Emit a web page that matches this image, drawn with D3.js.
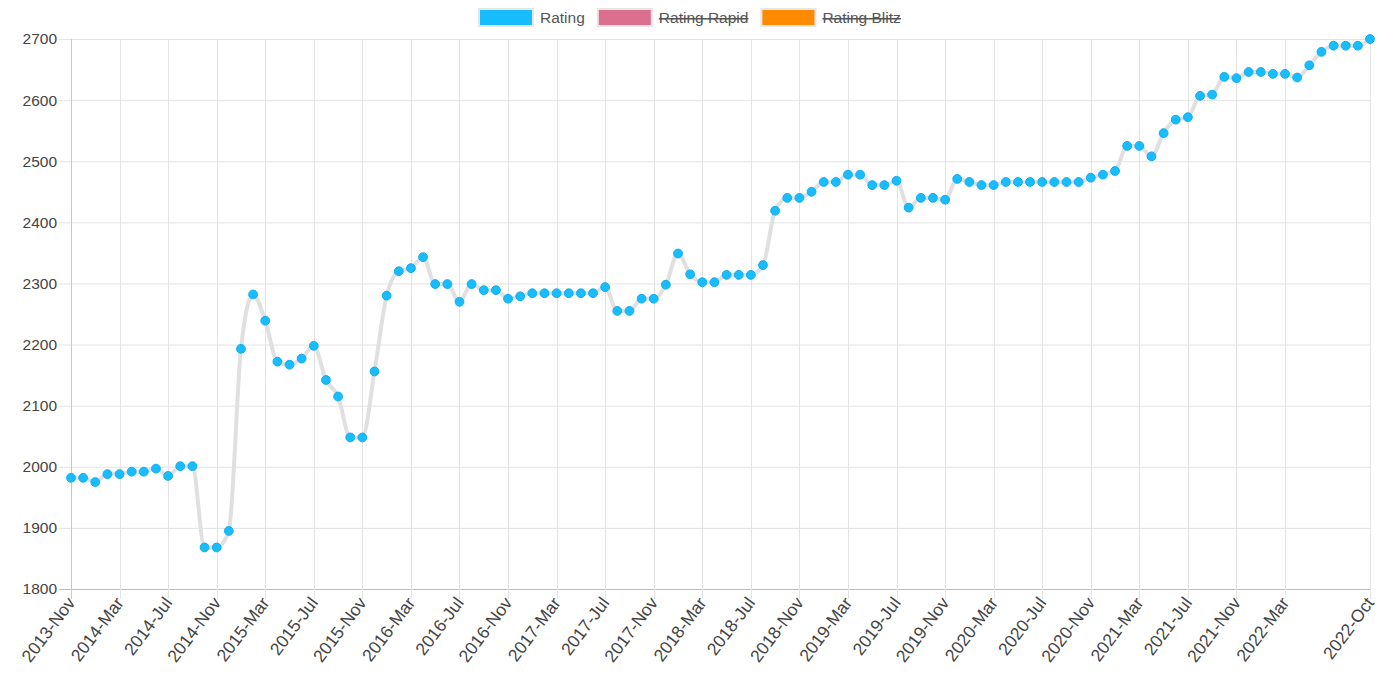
<!DOCTYPE html>
<html>
<head>
<meta charset="utf-8">
<script src="https://cdn.jsdelivr.net/npm/d3@7"></script>
<style>
  body { margin: 0; background: #fff; }
  svg { display: block; font-family: "Liberation Sans", Arial, sans-serif; }
</style>
</head>
<body>
<script>
var width = 1400,
    height = 687;

var margin = {top: 39, right: 30, bottom: 98, left: 71};

var months = [
  "2013-Nov", "2013-Dec",
  "2014-Jan", "2014-Feb", "2014-Mar", "2014-Apr", "2014-May", "2014-Jun", "2014-Jul", "2014-Aug", "2014-Sep", "2014-Oct", "2014-Nov", "2014-Dec",
  "2015-Jan", "2015-Feb", "2015-Mar", "2015-Apr", "2015-May", "2015-Jun", "2015-Jul", "2015-Aug", "2015-Sep", "2015-Oct", "2015-Nov", "2015-Dec",
  "2016-Jan", "2016-Feb", "2016-Mar", "2016-Apr", "2016-May", "2016-Jun", "2016-Jul", "2016-Aug", "2016-Sep", "2016-Oct", "2016-Nov", "2016-Dec",
  "2017-Jan", "2017-Feb", "2017-Mar", "2017-Apr", "2017-May", "2017-Jun", "2017-Jul", "2017-Aug", "2017-Sep", "2017-Oct", "2017-Nov", "2017-Dec",
  "2018-Jan", "2018-Feb", "2018-Mar", "2018-Apr", "2018-May", "2018-Jun", "2018-Jul", "2018-Aug", "2018-Sep", "2018-Oct", "2018-Nov", "2018-Dec",
  "2019-Jan", "2019-Feb", "2019-Mar", "2019-Apr", "2019-May", "2019-Jun", "2019-Jul", "2019-Aug", "2019-Sep", "2019-Oct", "2019-Nov", "2019-Dec",
  "2020-Jan", "2020-Feb", "2020-Mar", "2020-Apr", "2020-May", "2020-Jun", "2020-Jul", "2020-Aug", "2020-Sep", "2020-Oct", "2020-Nov", "2020-Dec",
  "2021-Jan", "2021-Feb", "2021-Mar", "2021-Apr", "2021-May", "2021-Jun", "2021-Jul", "2021-Aug", "2021-Sep", "2021-Oct", "2021-Nov", "2021-Dec",
  "2022-Jan", "2022-Feb", "2022-Mar", "2022-Apr", "2022-May", "2022-Jun", "2022-Jul", "2022-Aug", "2022-Sep", "2022-Oct"
];

var rating = [
  1982, 1982, 1975, 1988, 1988, 1992, 1992, 1997, 1985, 2001, 2001, 1868,
  1868, 1895, 2193, 2282, 2239, 2172, 2167, 2177, 2198, 2142, 2115, 2048,
  2048, 2156, 2280, 2320, 2325, 2343, 2299, 2299, 2270, 2299, 2289, 2289,
  2275, 2279, 2284, 2284, 2284, 2284, 2284, 2284, 2294, 2255, 2255, 2275,
  2275, 2298, 2349, 2315, 2302, 2302, 2314, 2314, 2314, 2330, 2419, 2440,
  2440, 2450, 2466, 2466, 2478, 2478, 2461, 2461, 2468, 2424, 2440, 2440,
  2437, 2471, 2466, 2461, 2461, 2466, 2466, 2466, 2466, 2466, 2466, 2466,
  2473, 2478, 2484, 2525, 2525, 2508, 2546, 2568, 2572, 2607, 2609, 2638,
  2636, 2646, 2646, 2643, 2643, 2637, 2657, 2679, 2689, 2689, 2689, 2700
];

var xTickLabels = [
  "2013-Nov", "2014-Mar", "2014-Jul", "2014-Nov", "2015-Mar", "2015-Jul", "2015-Nov",
  "2016-Mar", "2016-Jul", "2016-Nov", "2017-Mar", "2017-Jul", "2017-Nov", "2018-Mar",
  "2018-Jul", "2018-Nov", "2019-Mar", "2019-Jul", "2019-Nov", "2020-Mar", "2020-Jul",
  "2020-Nov", "2021-Mar", "2021-Jul", "2021-Nov", "2022-Mar", "2022-Oct"
];

var yTicks = [1800, 1900, 2000, 2100, 2200, 2300, 2400, 2500, 2600, 2700];

var legendItems = [
  {name: "Rating", color: "#17bdff", hidden: false},
  {name: "Rating Rapid", color: "#dc6f8f", hidden: true},
  {name: "Rating Blitz", color: "#ff8a00", hidden: true}
];

var data = months.map(function(m, i) { return {month: m, value: rating[i]}; });

var x = d3.scalePoint()
    .domain(months)
    .range([margin.left, width - margin.right]);

var y = d3.scaleLinear()
    .domain([1800, 2700])
    .range([height - margin.bottom, margin.top]);

var svg = d3.select("body").append("svg")
    .attr("width", width)
    .attr("height", height);

// grid
svg.append("g").selectAll("line")
    .data(yTicks)
    .enter().append("line")
    .attr("x1", margin.left - 12)
    .attr("x2", width - margin.right)
    .attr("y1", function(d) { return y(d) + 0.5; })
    .attr("y2", function(d) { return y(d) + 0.5; })
    .attr("stroke", function(d) { return d === 1800 ? "#bdbdbd" : "#e3e3e3"; })
    .attr("stroke-width", 1);

svg.append("g").selectAll("line")
    .data(xTickLabels)
    .enter().append("line")
    .attr("x1", function(d) { return Math.round(x(d)) + 0.5; })
    .attr("x2", function(d) { return Math.round(x(d)) + 0.5; })
    .attr("y1", margin.top)
    .attr("y2", height - margin.bottom + 10)
    .attr("stroke", function(d, i) { return i === 0 ? "#c8c8c8" : "#e3e3e3"; })
    .attr("stroke-width", 1);

// y labels
svg.append("g").selectAll("text")
    .data(yTicks)
    .enter().append("text")
    .attr("x", margin.left - 14)
    .attr("y", function(d) { return y(d); })
    .attr("dy", "0.35em")
    .attr("text-anchor", "end")
    .attr("font-size", 15.5)
    .attr("fill", "#444")
    .text(function(d) { return d; });

// x labels
svg.append("g").selectAll("text")
    .data(xTickLabels)
    .enter().append("text")
    .attr("transform", function(d) {
        return "translate(" + (x(d) + 5) + "," + (height - margin.bottom + 14) + ") rotate(-53)";
    })
    .attr("text-anchor", "end")
    .attr("font-size", 17.5)
    .attr("fill", "#444")
    .text(function(d) { return d; });

// line
var line = d3.line()
    .x(function(d) { return x(d.month); })
    .y(function(d) { return y(d.value); })
    .curve(d3.curveMonotoneX);

svg.append("path")
    .datum(data)
    .attr("fill", "none")
    .attr("stroke", "#e0e0e0")
    .attr("stroke-width", 4)
    .attr("d", line);

svg.append("g").selectAll("circle")
    .data(data)
    .enter().append("circle")
    .attr("cx", function(d) { return x(d.month); })
    .attr("cy", function(d) { return y(d.value); })
    .attr("r", 4.4)
    .attr("fill", "#17bdff")
    .attr("stroke", "#10aef0")
    .attr("stroke-width", 1);

// legend
var legend = svg.append("g");
var lx = 479;
legendItems.forEach(function(item) {
    legend.append("rect")
        .attr("x", lx)
        .attr("y", 9)
        .attr("width", 54)
        .attr("height", 17)
        .attr("fill", item.color)
        .attr("stroke", "#e6e6e6")
        .attr("stroke-width", 2);
    var t = legend.append("text")
        .attr("x", lx + 61)
        .attr("y", 18)
        .attr("dy", "0.35em")
        .attr("font-size", 15.5)
        .attr("fill", "#555")
        .style("text-decoration", item.hidden ? "line-through" : null)
        .text(item.name);
    lx += 61 + t.node().getComputedTextLength() + 13;
});
</script>
</body>
</html>
